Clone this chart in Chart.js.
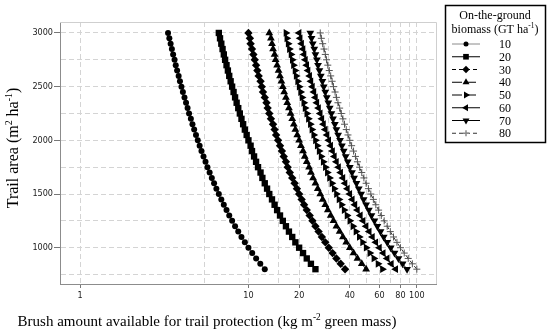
<!DOCTYPE html>
<html>
<head>
<meta charset="utf-8">
<script src="https://cdn.jsdelivr.net/npm/chart.js@4"></script>
<style>
  html, body { margin: 0; padding: 0; background: #fff; }
</style>
</head>
<body>
<canvas id="graficoTrilha" width="550" height="331"></canvas>
<script>
//DATA
const trailArea = [800, 850, 900, 950, 1000, 1050, 1100, 1150, 1200, 1250, 1300, 1350, 1400, 1450, 1500,
    1550, 1600, 1650, 1700, 1750, 1800, 1850, 1900, 1950, 2000, 2050, 2100, 2150, 2200, 2250,
    2300, 2350, 2400, 2450, 2500, 2550, 2600, 2650, 2700, 2750, 2800, 2850, 2900, 2950, 3000];

const brush10 = [12.5, 11.76, 11.11, 10.53, 10.0, 9.52, 9.09, 8.70, 8.33, 8.00, 7.69, 7.41, 7.14, 6.90, 6.67,
    6.45, 6.25, 6.06, 5.88, 5.71, 5.56, 5.41, 5.26, 5.13, 5.00, 4.88, 4.76, 4.65, 4.55, 4.44,
    4.35, 4.26, 4.17, 4.08, 4.00, 3.92, 3.85, 3.77, 3.70, 3.64, 3.57, 3.51, 3.45, 3.39, 3.33];
const brush20 = [25.0, 23.5, 22.2, 21.1, 20.0, 19.0, 18.2, 17.4, 16.7, 16.0, 15.4, 14.8, 14.3, 13.8, 13.3,
    12.9, 12.5, 12.1, 11.8, 11.4, 11.1, 10.8, 10.5, 10.3, 10.0, 9.76, 9.52, 9.30, 9.09, 8.89,
    8.70, 8.51, 8.33, 8.16, 8.00, 7.84, 7.69, 7.55, 7.41, 7.27, 7.14, 7.02, 6.90, 6.78, 6.67];
const brush30 = [37.5, 35.3, 33.3, 31.6, 30.0, 28.6, 27.3, 26.1, 25.0, 24.0, 23.1, 22.2, 21.4, 20.7, 20.0,
    19.4, 18.8, 18.2, 17.6, 17.1, 16.7, 16.2, 15.8, 15.4, 15.0, 14.6, 14.3, 14.0, 13.6, 13.3,
    13.0, 12.8, 12.5, 12.2, 12.0, 11.8, 11.5, 11.3, 11.1, 10.9, 10.7, 10.5, 10.3, 10.2, 10.0];
const brush40 = [50.0, 47.1, 44.4, 42.1, 40.0, 38.1, 36.4, 34.8, 33.3, 32.0, 30.8, 29.6, 28.6, 27.6, 26.7,
    25.8, 25.0, 24.2, 23.5, 22.9, 22.2, 21.6, 21.1, 20.5, 20.0, 19.5, 19.0, 18.6, 18.2, 17.8,
    17.4, 17.0, 16.7, 16.3, 16.0, 15.7, 15.4, 15.1, 14.8, 14.5, 14.3, 14.0, 13.8, 13.6, 13.3];
const brush50 = [62.5, 58.8, 55.6, 52.6, 50.0, 47.6, 45.5, 43.5, 41.7, 40.0, 38.5, 37.0, 35.7, 34.5, 33.3,
    32.3, 31.3, 30.3, 29.4, 28.6, 27.8, 27.0, 26.3, 25.6, 25.0, 24.4, 23.8, 23.3, 22.7, 22.2,
    21.7, 21.3, 20.8, 20.4, 20.0, 19.6, 19.2, 18.9, 18.5, 18.2, 17.9, 17.5, 17.2, 16.9, 16.7];
const brush60 = [75.0, 70.6, 66.7, 63.2, 60.0, 57.1, 54.5, 52.2, 50.0, 48.0, 46.2, 44.4, 42.9, 41.4, 40.0,
    38.7, 37.5, 36.4, 35.3, 34.3, 33.3, 32.4, 31.6, 30.8, 30.0, 29.3, 28.6, 27.9, 27.3, 26.7,
    26.1, 25.5, 25.0, 24.5, 24.0, 23.5, 23.1, 22.6, 22.2, 21.8, 21.4, 21.1, 20.7, 20.3, 20.0];
const brush70 = [87.5, 82.4, 77.8, 73.7, 70.0, 66.7, 63.6, 60.9, 58.3, 56.0, 53.8, 51.9, 50.0, 48.3, 46.7,
    45.2, 43.8, 42.4, 41.2, 40.0, 38.9, 37.8, 36.8, 35.9, 35.0, 34.1, 33.3, 32.6, 31.8, 31.1,
    30.4, 29.8, 29.2, 28.6, 28.0, 27.5, 26.9, 26.4, 25.9, 25.5, 25.0, 24.6, 24.1, 23.7, 23.3];
const brush80 = [100, 94.1, 88.9, 84.2, 80.0, 76.2, 72.7, 69.6, 66.7, 64.0, 61.5, 59.3, 57.1, 55.2, 53.3,
    51.6, 50.0, 48.5, 47.1, 45.7, 44.4, 43.2, 42.1, 41.0, 40.0, 39.0, 38.1, 37.2, 36.4, 35.6,
    34.8, 34.0, 33.3, 32.7, 32.0, 31.4, 30.8, 30.2, 29.6, 29.1, 28.6, 28.1, 27.6, 27.1, 26.7];

const biomassLabels = ['10', '20', '30', '40', '50', '60', '70', '80'];
const xTickLabels = [1, 10, 20, 40, 60, 80, 100];
const xGridValues = [1, 5.5, 10, 15, 20, 30, 40, 50, 60, 70, 80, 90, 100];
const yTickLabels = [1000, 1500, 2000, 2500, 3000];
const yGridValues = [750, 1000, 1250, 1500, 1750, 2000, 2250, 2500, 2750, 3000];

//STYLES
const serif = '"Liberation Serif", "Times New Roman", serif';
const sans = '"DejaVu Sans Condensed", "DejaVu Sans", sans-serif';

const seriesStyles = [
    { values: brush10, point: 'circle', rot: 0, r: 3, line: '#8a8a8a', dash: [], pb: 0 },
    { values: brush20, point: 'rect', rot: 0, r: 4.5, line: '#000', dash: [], pb: 0 },
    { values: brush30, point: 'rectRot', rot: 0, r: 4.2, line: '#000', dash: [4, 3], pb: 0 },
    { values: brush40, point: 'triangle', rot: 0, r: 4.5, line: '#000', dash: [10, 4], pb: 0 },
    { values: brush50, point: 'triangle', rot: 90, r: 4.5, line: '#000', dash: [10, 4], pb: 0 },
    { values: brush60, point: 'triangle', rot: 270, r: 4.5, line: '#000', dash: [], pb: 0 },
    { values: brush70, point: 'triangle', rot: 180, r: 4.5, line: '#000', dash: [], pb: 0 },
    { values: brush80, point: 'cross', rot: 0, r: 3.5, line: '#333', dash: [4, 3], pb: 1 }
];

function buildDataset(style, i) {
    return {
        label: biomassLabels[i],
        data: trailArea.map((a, k) => ({ x: style.values[k], y: a })),
        borderColor: style.line,
        borderWidth: 1,
        borderDash: style.dash,
        pointStyle: style.point,
        pointRotation: style.rot,
        pointRadius: style.r,
        pointBackgroundColor: '#000',
        pointBorderColor: style.pb ? '#555' : '#000',
        pointBorderWidth: style.pb,
        fill: false,
        tension: 0
    };
}

function drawRich(ctx, parts, x, y, size) {
    const widths = parts.map(([t, sup]) => {
        ctx.font = (sup ? size * 0.62 : size) + 'px ' + serif;
        return ctx.measureText(t).width;
    });
    let cx = x - widths.reduce((a, b) => a + b, 0) / 2;
    ctx.textAlign = 'left';
    ctx.textBaseline = 'alphabetic';
    parts.forEach(([t, sup], i) => {
        ctx.font = (sup ? size * 0.62 : size) + 'px ' + serif;
        ctx.fillText(t, cx, sup ? y - size * 0.38 : y);
        cx += widths[i];
    });
}

//PLUGIN: frame, axis titles, legend box
const extras = {
    id: 'extras',
    beforeDatasetsDraw(chart) {
        const { ctx, chartArea: c } = chart;
        ctx.save();
        ctx.strokeStyle = '#cfcfcf';
        ctx.lineWidth = 1;
        ctx.beginPath();
        ctx.moveTo(c.left, c.top + 0.5);
        ctx.lineTo(c.right + 0.5, c.top + 0.5);
        ctx.lineTo(c.right + 0.5, c.bottom);
        ctx.stroke();
        ctx.restore();
    },
    afterDraw(chart) {
        const ctx = chart.ctx;
        ctx.save();
        ctx.fillStyle = '#000';
        drawRich(ctx, [['Brush amount available for trail protection (kg m', 0], ['-2', 1], [' green mass)', 0]], 207, 326, 15);

        ctx.save();
        ctx.translate(18, 148);
        ctx.rotate(-Math.PI / 2);
        drawRich(ctx, [['Trail area (m', 0], ['2', 1], [' ha', 0], ['-1', 1], [')', 0]], 0, 0, 16);
        ctx.restore();

        // legend
        ctx.strokeStyle = '#000';
        ctx.lineWidth = 1.5;
        ctx.strokeRect(445.5, 5.5, 100, 137);
        ctx.textAlign = 'center';
        ctx.font = '12px ' + serif;
        ctx.fillText('On-the-ground', 495, 19);
        drawRich(ctx, [['biomass (GT ha', 0], ['-1', 1], [')', 0]], 495, 33, 12);

        seriesStyles.forEach((s, i) => {
            const yy = 44 + i * 12.75;
            ctx.save();
            ctx.strokeStyle = s.line;
            ctx.lineWidth = 1;
            ctx.setLineDash(s.dash);
            ctx.beginPath();
            ctx.moveTo(452, yy);
            ctx.lineTo(480, yy);
            ctx.stroke();
            ctx.restore();
            ctx.save();
            ctx.fillStyle = '#000';
            ctx.strokeStyle = s.pb ? '#8a8a8a' : '#000';
            Chart.helpers.drawPoint(ctx, { pointStyle: s.point, rotation: s.rot, radius: s.r - 0.5, borderWidth: s.pb }, 466, yy);
            ctx.restore();
            ctx.fillStyle = '#000';
            ctx.font = '12px ' + serif;
            ctx.textAlign = 'left';
            ctx.textBaseline = 'middle';
            ctx.fillText(biomassLabels[i], 499, yy + 1);
        });
        ctx.restore();
    }
};

//CHART
const canvasTrilha = document.getElementById('graficoTrilha');

const graficoTrilha = new Chart(canvasTrilha, {
    type: 'line',
    data: { datasets: seriesStyles.map(buildDataset) },
    options: {
        responsive: false,
        devicePixelRatio: 1,
        animation: false,
        events: [],
        layout: { padding: { top: 22, right: 114, left: 0, bottom: 0 } },
        plugins: { legend: { display: false }, tooltip: { enabled: false } },
        scales: {
            x: {
                type: 'logarithmic',
                min: 0.76,
                max: 130,
                afterBuildTicks: s => { s.ticks = xGridValues.map(v => ({ value: v })); },
                afterFit: s => { s.height = 47; },
                ticks: {
                    autoSkip: false,
                    maxRotation: 0,
                    padding: 2,
                    color: '#1a1a1a',
                    font: { family: sans, size: 9 },
                    callback: v => xTickLabels.includes(v) ? String(v) : ''
                },
                grid: {
                    color: '#d4d4d4',
                    tickLength: 4,
                    tickColor: c => xTickLabels.includes(c.tick.value) ? '#777' : 'rgba(0,0,0,0)'
                },
                border: { color: '#8c8c8c', width: 1, dash: [5, 3] }
            },
            y: {
                min: 662,
                max: 3102,
                afterBuildTicks: s => { s.ticks = yGridValues.map(v => ({ value: v })); },
                afterFit: s => { s.width = 60; },
                ticks: {
                    autoSkip: false,
                    padding: 1,
                    color: '#1a1a1a',
                    font: { family: sans, size: 9 },
                    callback: v => yTickLabels.includes(v) ? String(v) : ''
                },
                grid: {
                    color: '#d4d4d4',
                    tickLength: 6,
                    tickColor: c => yTickLabels.includes(c.tick.value) ? '#777' : 'rgba(0,0,0,0)'
                },
                border: { color: '#8c8c8c', width: 1, dash: [5, 3] }
            }
        }
    },
    plugins: [extras]
});
</script>
</body>
</html>
